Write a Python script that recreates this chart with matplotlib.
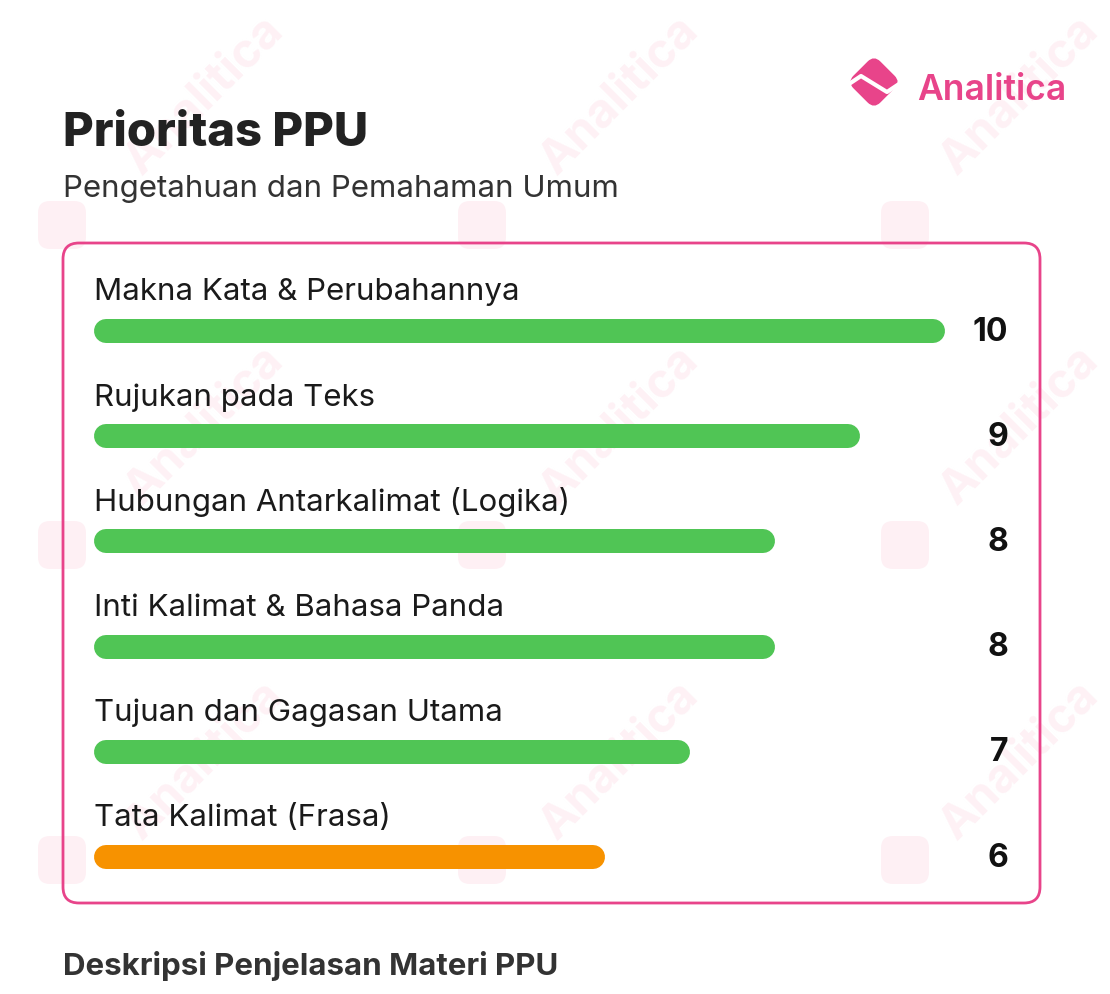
import matplotlib
matplotlib.use('Agg')
import matplotlib.pyplot as plt
from matplotlib.patches import FancyBboxPatch
import matplotlib.transforms as mtransforms

plt.rcParams['font.family'] = ['Inter', 'DejaVu Sans']

# data
topics = ['Makna Kata & Perubahannya', 'Rujukan pada Teks', 'Hubungan Antarkalimat (Logika)',
          'Inti Kalimat & Bahasa Panda', 'Tujuan dan Gagasan Utama', 'Tata Kalimat (Frasa)']
scores = [10, 9, 8, 8, 7, 6]
bar_colors = ['#50C555', '#50C555', '#50C555', '#50C555', '#50C555', '#F79200']

title = 'Prioritas PPU'
subtitle = 'Pengetahuan dan Pemahaman Umum'
footer = 'Deskripsi Penjelasan Materi PPU'
brand = 'Analitica'

W, H = 1110, 994
fig = plt.figure(figsize=(W / 100, H / 100), dpi=100)
fig.patch.set_facecolor('white')

pink = '#E8448A'

# faint watermark layer
bg = fig.add_axes([0, 0, 1, 1])
bg.set_xlim(0, W)
bg.set_ylim(H, 0)
bg.axis('off')
for cx in (205, 620, 1020):
    for cy in (95, 425, 760):
        bg.text(cx, cy, brand, rotation=45, ha='center', va='center',
                fontsize=34, fontweight='bold', color='#FEF1F5', zorder=0)
for cx in (62, 482, 905):
    for cy in (225, 545, 860):
        bg.add_patch(FancyBboxPatch((cx - 24, cy - 24), 48, 48,
                                    boxstyle='round,pad=0,rounding_size=12',
                                    facecolor='#FEF0F4', edgecolor='none', zorder=0))

# outer card
card = FancyBboxPatch((63, 243), 977, 660, boxstyle='round,pad=0,rounding_size=16',
                      facecolor='none', edgecolor=pink, linewidth=2, zorder=2)
bg.add_patch(card)

# logo
icon_tr = mtransforms.Affine2D().rotate_deg_around(874, 82, 45) + bg.transData
bg.add_patch(FancyBboxPatch((855, 63), 38, 38, boxstyle='round,pad=0,rounding_size=9',
                            facecolor=pink, edgecolor='none', transform=icon_tr, zorder=3))
bg.plot([849, 861, 874, 887, 899], [84, 76, 84, 92, 84], color='white', lw=3,
        solid_capstyle='round', zorder=4)
bg.text(917, 100, brand, fontsize=25.5, fontweight='semibold', color=pink,
        ha='left', va='baseline', zorder=3)

# titles
bg.text(63, 146, title, fontsize=34, fontweight='heavy', color='#222222',
        ha='left', va='baseline', zorder=3)
bg.text(63, 197, subtitle, fontsize=22.5, color='#333333',
        ha='left', va='baseline', zorder=3)
bg.text(63, 975, footer, fontsize=22.5, fontweight='bold', color='#333333',
        ha='left', va='baseline', zorder=3)

# bar chart: value 0 at x=94px, value 10 at x=945px
x0, x1 = 94, 945
row_h = 105.2
y_first = 331
ax = fig.add_axes([x0 / W, (H - (y_first + row_h * 5.5)) / H,
                   (x1 - x0) / W, row_h * 6 / H])
ax.set_xlim(0, 10)
ax.set_ylim(5.5, -0.5)
ax.axis('off')
ax.patch.set_alpha(0)

bar_px = 24
px_per_unit = (x1 - x0) / 10
r = bar_px / 2 / px_per_unit
for i, (t, v, c) in enumerate(zip(topics, scores, bar_colors)):
    ax.hlines(i, r, v - r, color=c, linewidth=bar_px * 0.72, capstyle='round')
    ax.text(0, i - 0.29, t, fontsize=22.5, color='#1a1a1a', ha='left', va='baseline')
    ax.text(10.74, i + 0.01, str(v), fontsize=23, fontweight='bold', color='#111111',
            ha='right', va='center')

fig.savefig('out.png', dpi=100)
